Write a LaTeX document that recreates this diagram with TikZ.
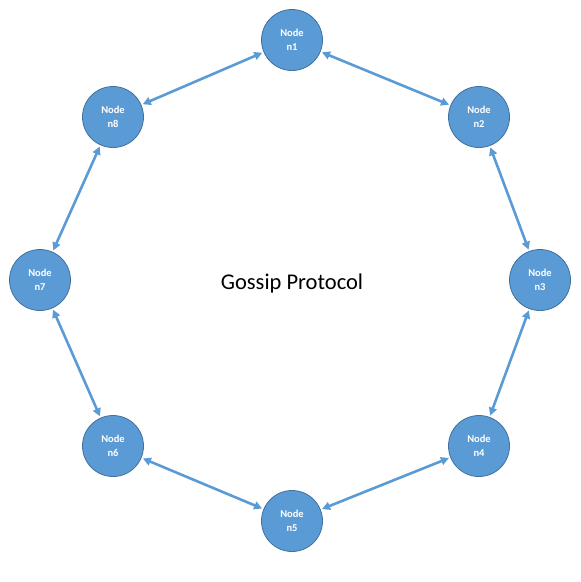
\documentclass[tikz,border=0pt]{standalone}
\usepackage{fontspec}
\setmainfont{Carlito}
\usepackage{tikz}
\usetikzlibrary{arrows.meta}
\tikzset{>={Triangle[length=8pt,width=8pt]}}
\definecolor{nodeblue}{HTML}{5B9BD5}
\definecolor{nodeedge}{HTML}{41719C}
\tikzset{
  peer/.style={circle, fill=nodeblue, draw=nodeedge, line width=0.8pt,
    minimum size=61pt, inner sep=0pt, text=white, align=center,
    font=\bfseries\fontsize{10.5}{13.5}\selectfont},
  gossip/.style={<->, draw=nodeblue, line width=2.6pt, shorten <=1.5pt, shorten >=1.5pt}
}

\begin{document}
\begin{tikzpicture}[x=1pt,y=-1pt]
  \useasboundingbox (0,0) rectangle (581,582);
  % the eight peers, clockwise from the top
  \foreach \n/\px/\py in {1/292/40, 2/479/117, 3/540/280, 4/479/446,
                          5/292/521, 6/113/446, 7/40/280, 8/113/117}
    \node[peer] (n\n) at (\px,\py) {Node\\n\n};
  \node[font=\fontsize{22.5}{27}\selectfont] (title) at (292,283) {Gossip Protocol};
  % every peer talks to its neighbour
  \foreach \a/\b in {1/2, 2/3, 3/4, 4/5, 5/6, 6/7, 7/8, 8/1}
    \draw[gossip] (n\a) -- (n\b);
\end{tikzpicture}
\end{document}
